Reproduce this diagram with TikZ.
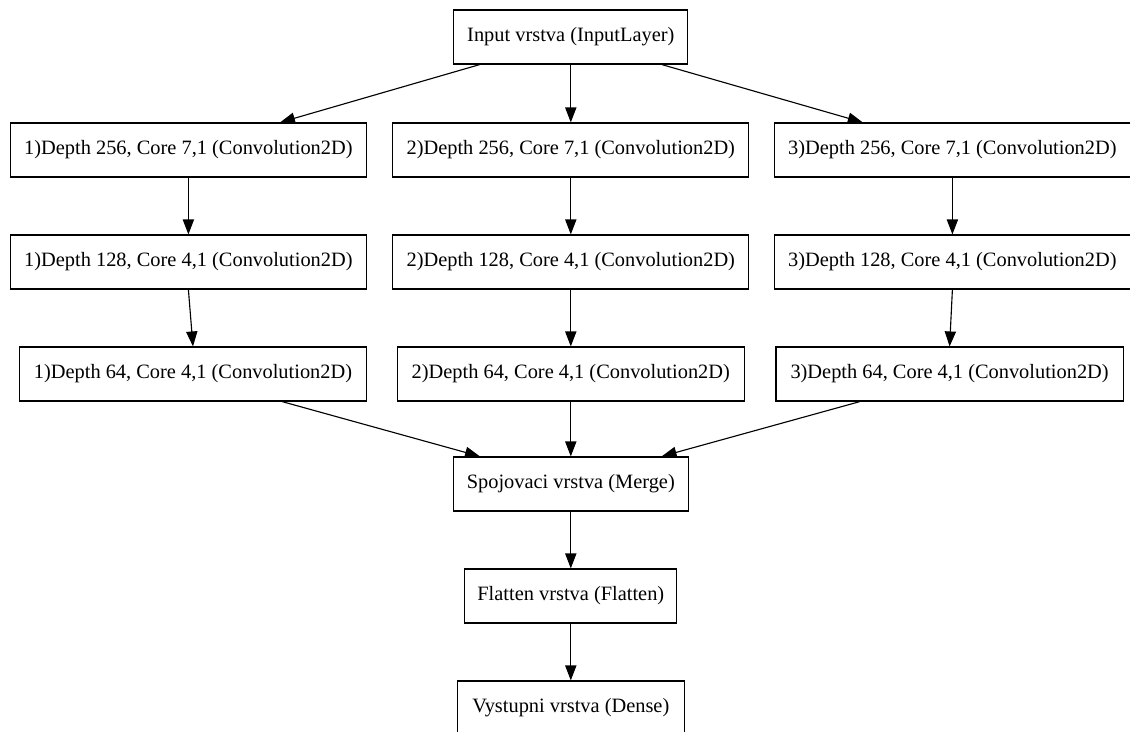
\documentclass[tikz,border=0pt]{standalone}
\usepackage{fontspec}
\setmainfont{Liberation Serif}
\usepackage{tikz}
\usetikzlibrary{arrows.meta, positioning}
\tikzset{
    % Plain layer boxes
    layer/.style={
        rectangle,
        draw=black,
        fill=white,
        line width=0.8pt,
        minimum height=1.35cm,
        inner sep=0pt,
        align=center,
        font=\fontsize{14.5}{17}\selectfont
    },
    conv wide/.style={
        layer,
        minimum width=8.9cm
    },
    conv narrow/.style={
        layer,
        minimum width=8.68cm
    },
    arrow style/.style={
        -{Triangle[length=0.375cm, width=0.28cm]},
        line width=0.8pt,
        black
    }
}

\begin{document}
\begin{tikzpicture}
        \useasboundingbox (0,0) rectangle (28.25,-18.3);

        % Input
        \node[layer, minimum width=5.85cm] (in) at (14.27, -0.925) {Input vrstva (InputLayer)};

        % First convolutions
        \node[conv wide] (c1a) at (4.71, -3.75) {1)Depth 256, Core 7,1 (Convolution2D)};
        \node[conv wide] (c2a) at (14.27, -3.75) {2)Depth 256, Core 7,1 (Convolution2D)};
        \node[conv wide] (c3a) at (23.81, -3.75) {3)Depth 256, Core 7,1 (Convolution2D)};

        % Second convolutions
        \node[conv wide] (c1b) at (4.71, -6.55) {1)Depth 128, Core 4,1 (Convolution2D)};
        \node[conv wide] (c2b) at (14.27, -6.55) {2)Depth 128, Core 4,1 (Convolution2D)};
        \node[conv wide] (c3b) at (23.81, -6.55) {3)Depth 128, Core 4,1 (Convolution2D)};

        % Third convolutions
        \node[conv narrow] (c1c) at (4.825, -9.35) {1)Depth 64, Core 4,1 (Convolution2D)};
        \node[conv narrow] (c2c) at (14.27, -9.35) {2)Depth 64, Core 4,1 (Convolution2D)};
        \node[conv narrow] (c3c) at (23.74, -9.35) {3)Depth 64, Core 4,1 (Convolution2D)};

        % Merge and output
        \node[layer, minimum width=5.875cm] (merge) at (14.27, -12.1) {Spojovaci vrstva (Merge)};
        \node[layer, minimum width=5.3cm] (flat) at (14.27, -14.9) {Flatten vrstva (Flatten)};
        \node[layer, minimum width=5.675cm] (out) at (14.27, -17.7) {Vystupni vrstva (Dense)};

        % Arrows
        \draw[arrow style] ([xshift=-2.275cm]in.south) -- ([xshift=2.29cm]c1a.north);
        \draw[arrow style] (in.south) -- (c2a.north);
        \draw[arrow style] ([xshift=2.275cm]in.south) -- ([xshift=-2.24cm]c3a.north);

        \draw[arrow style] (c1a.south) -- (c1b.north);
        \draw[arrow style] (c2a.south) -- (c2b.north);
        \draw[arrow style] (c3a.south) -- (c3b.north);

        \draw[arrow style] (c1b.south) -- (c1c.north);
        \draw[arrow style] (c2b.south) -- (c2c.north);
        \draw[arrow style] (c3b.south) -- (c3c.north);

        \draw[arrow style] ([xshift=2.225cm]c1c.south) -- ([xshift=-2.27cm]merge.north);
        \draw[arrow style] (c2c.south) -- (merge.north);
        \draw[arrow style] ([xshift=-2.24cm]c3c.south) -- ([xshift=2.27cm]merge.north);

        \draw[arrow style] (merge.south) -- (flat.north);
        \draw[arrow style] (flat.south) -- (out.north);
    \end{tikzpicture}
\end{document}
